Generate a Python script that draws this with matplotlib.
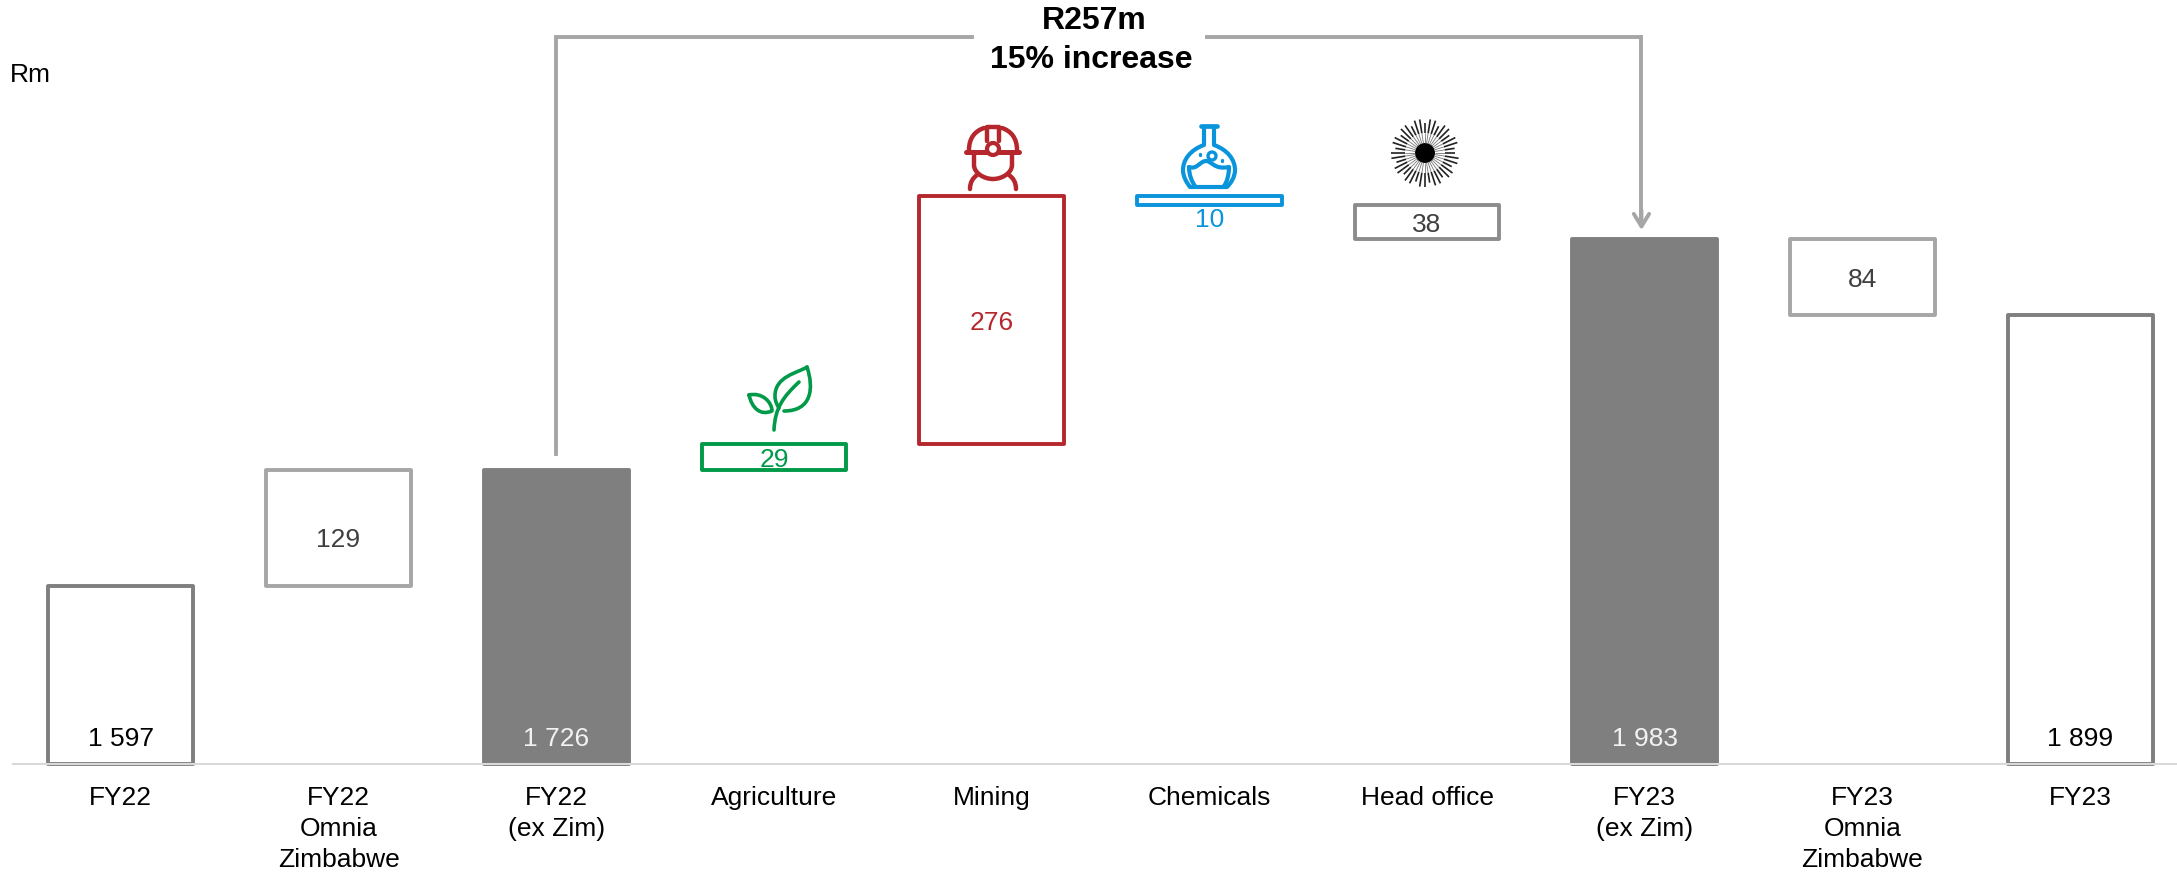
import numpy as np
import matplotlib as mpl
mpl.use('Agg')
import matplotlib.pyplot as plt
from matplotlib.patches import PathPatch, Circle
from matplotlib.path import Path

W, H = 2177, 873
AXIS_Y = 764  # baseline row in pixels
Y_FLOOR = 1399
Y_TOP = 2249

categories = ['FY22', 'FY22\nOmnia\nZimbabwe', 'FY22\n(ex Zim)', 'Agriculture', 'Mining',
              'Chemicals', 'Head office', 'FY23\n(ex Zim)', 'FY23\nOmnia\nZimbabwe', 'FY23']
# change per step, None where the bar is a running total
totals = [1597, None, 1726, None, None, None, None, 1983, None, 1899]
deltas = [None, 129, None, 29, 276, -10, -38, None, -84, None]
labels = ['1 597', '129', '1 726', '29', '276', '10', '38', '1 983', '84', '1 899']

edge_colors = ['#7F7F7F', '#A6A6A6', '#7F7F7F', '#009A49', '#B5272D',
               '#0A94DB', '#8C8C8C', '#7F7F7F', '#A6A6A6', '#7F7F7F']
face_colors = ['white', 'white', '#7F7F7F', 'white', 'white',
               'white', 'white', '#7F7F7F', 'white', 'white']
label_colors = ['black', '#404040', '#F2F2F2', '#009A49', '#B5272D',
                '#0A94DB', '#404040', '#F2F2F2', '#404040', 'black']

plt.rcParams['font.family'] = ['Liberation Sans', 'DejaVu Sans']

fig = plt.figure(figsize=(W / 100, H / 100), dpi=100)
ax = fig.add_axes([0, (H - AXIS_Y) / H, 1, AXIS_Y / H])
ax.set_xlim(-0.555, 9.445)
ax.set_ylim(Y_FLOOR, Y_TOP)

x = np.arange(len(categories))
level = 0
for i in x:
    if totals[i] is not None:
        level = totals[i]
        bottom, height = Y_FLOOR, level - Y_FLOOR
    else:
        bottom, height = min(level, level + deltas[i]), abs(deltas[i])
        level += deltas[i]
    bars = ax.bar(i, height, bottom=bottom, width=0.665, facecolor=face_colors[i],
                  edgecolor=edge_colors[i], linewidth=2.8, clip_on=False, zorder=2)
    bars[0].set_joinstyle('round')
    if totals[i] is not None:
        ly = Y_FLOOR + 28
    elif labels[i] == '10':
        ly = bottom - 17
    elif labels[i] == '129':
        ly = bottom + height / 2 - 13
    else:
        ly = bottom + height / 2 - 3
    ax.text(i, ly, labels[i], ha='center', va='center', fontsize=19,
            color=label_colors[i], zorder=4)

for s in ['top', 'left', 'right']:
    ax.spines[s].set_visible(False)
ax.spines['bottom'].set_color('#D9D9D9')
ax.spines['bottom'].set_linewidth(1.5)
ax.spines['bottom'].set_bounds(-0.495, 9.445)
ax.spines['bottom'].set_zorder(3)
ax.set_yticks([])
ax.set_xticks(x)
ax.set_xticklabels(categories, fontsize=19, linespacing=1.36)
ax.tick_params(axis='x', length=0, pad=16)

# bracket from the FY22 (ex Zim) bar over to the FY23 (ex Zim) bar
bracket = '#A6A6A6'
ax.plot([2, 2, 3.91], [1744, 2208, 2208], color=bracket, lw=2.8, solid_joinstyle='miter', clip_on=False)
ax.plot([4.99, 6.985, 6.985], [2208, 2208, 2000], color=bracket, lw=2.8, solid_joinstyle='miter', clip_on=False)
ax.annotate('', xy=(6.985, 1993), xytext=(6.985, 2015),
            arrowprops=dict(arrowstyle='->,head_length=0.9,head_width=0.55', color=bracket, lw=2.8,
                            shrinkA=0, shrinkB=0))

# overlay in pixel rows/columns for the header text and the segment icons
px = fig.add_axes([0, 0, 1, 1], facecolor='none')
px.set_xlim(0, W)
px.set_ylim(H, 0)
px.axis('off')

px.text(1094, 21, 'R257m', ha='center', va='center', fontsize=23, fontweight='bold')
px.text(1091, 60, '15% increase', ha='center', va='center', fontsize=23, fontweight='bold')
px.text(10, 75, 'Rm', ha='left', va='center', fontsize=19)


def curve(points, color, lw=3.0):
    # points: first is the start, then (x, y) lines or 3-tuples of cubic control points
    verts, codes = [points[0]], [Path.MOVETO]
    for p in points[1:]:
        if len(p) == 3:
            verts += list(p)
            codes += [Path.CURVE4] * 3
        else:
            verts.append(p)
            codes.append(Path.LINETO)
    px.add_patch(PathPatch(Path(verts, codes), fc='none', ec=color, lw=lw,
                           capstyle='round', joinstyle='round'))


# plant
green = edge_colors[3]
curve([(774, 430), ((775, 408), (783, 397), (799, 382))], green, 2.6)
curve([(807, 367), ((798, 373), (775, 376), (775, 396)), ((775, 401), (777, 405), (779, 408))], green, 2.6)
curve([(807, 367), ((814, 388), (812, 411), (784, 411))], green, 2.6)
curve([(749, 395), ((762, 392), (772, 402), (772, 411)), ((760, 416), (752, 408), (749, 395))], green, 2.6)

# miner
red = edge_colors[4]
curve([(966, 152), (1019, 152)], red, 3.6)
curve([(969, 150), ((969, 138), (975, 131), (984, 128))], red, 3.2)
curve([(1017, 150), ((1017, 138), (1011, 131), (1002, 128))], red, 3.2)
curve([(987, 141), (987, 127), (999, 127), (999, 141)], red, 3.2)
px.add_patch(Circle((993, 149), 6, fc='white', ec=red, lw=3.0))
curve([(974, 154), (974, 165), ((974, 173), (984, 179), (993, 179)), ((1002, 179), (1012, 173), (1012, 165)), (1012, 154)], red, 3.2)
curve([(970, 189), ((970, 182), (973, 178), (977, 175))], red, 3.2)
curve([(1016, 189), ((1016, 182), (1013, 178), (1009, 175))], red, 3.2)

# flask
blue = edge_colors[5]
curve([(1201, 126), (1217, 126)], blue, 3.4)
curve([(1204, 127), (1204, 145), ((1190, 150), (1183, 160), (1183, 170)),
       ((1183, 177), (1187, 183), (1190, 187)), (1227, 187), ((1231, 183), (1235, 177), (1235, 170)),
       ((1235, 160), (1228, 150), (1214, 145)), (1214, 127)], blue)
curve([(1189, 167), ((1197, 170), (1200, 161), (1206, 161)), ((1212, 161), (1214, 170), (1229, 167)),
       ((1229, 175), (1227, 182), (1224, 186))], blue)
curve([(1189, 167), ((1189, 175), (1192, 182), (1195, 186))], blue)
px.add_patch(Circle((1212, 156), 4, fc='white', ec=blue, lw=2.4))
curve([(1200, 154), (1200, 155)], blue, 2.4)
curve([(1222, 160), (1222, 161)], blue, 2.4)

# head office burst
cx, cy = 1425, 153
px.add_patch(Circle((cx, cy), 10, fc='black', ec='none'))
for k, a in enumerate(np.linspace(0, 2 * np.pi, 40, endpoint=False)):
    r1 = 34 if k % 3 else 30
    px.plot([cx + 20 * np.cos(a), cx + r1 * np.cos(a)], [cy + 20 * np.sin(a), cy + r1 * np.sin(a)],
            color='#222222', lw=1.2, solid_capstyle='butt')
    px.plot([cx + 10 * np.cos(a), cx + 20 * np.cos(a)], [cy + 10 * np.sin(a), cy + 20 * np.sin(a)],
            color='#777777', lw=0.6, solid_capstyle='butt')

fig.savefig('out.png', dpi=100)
